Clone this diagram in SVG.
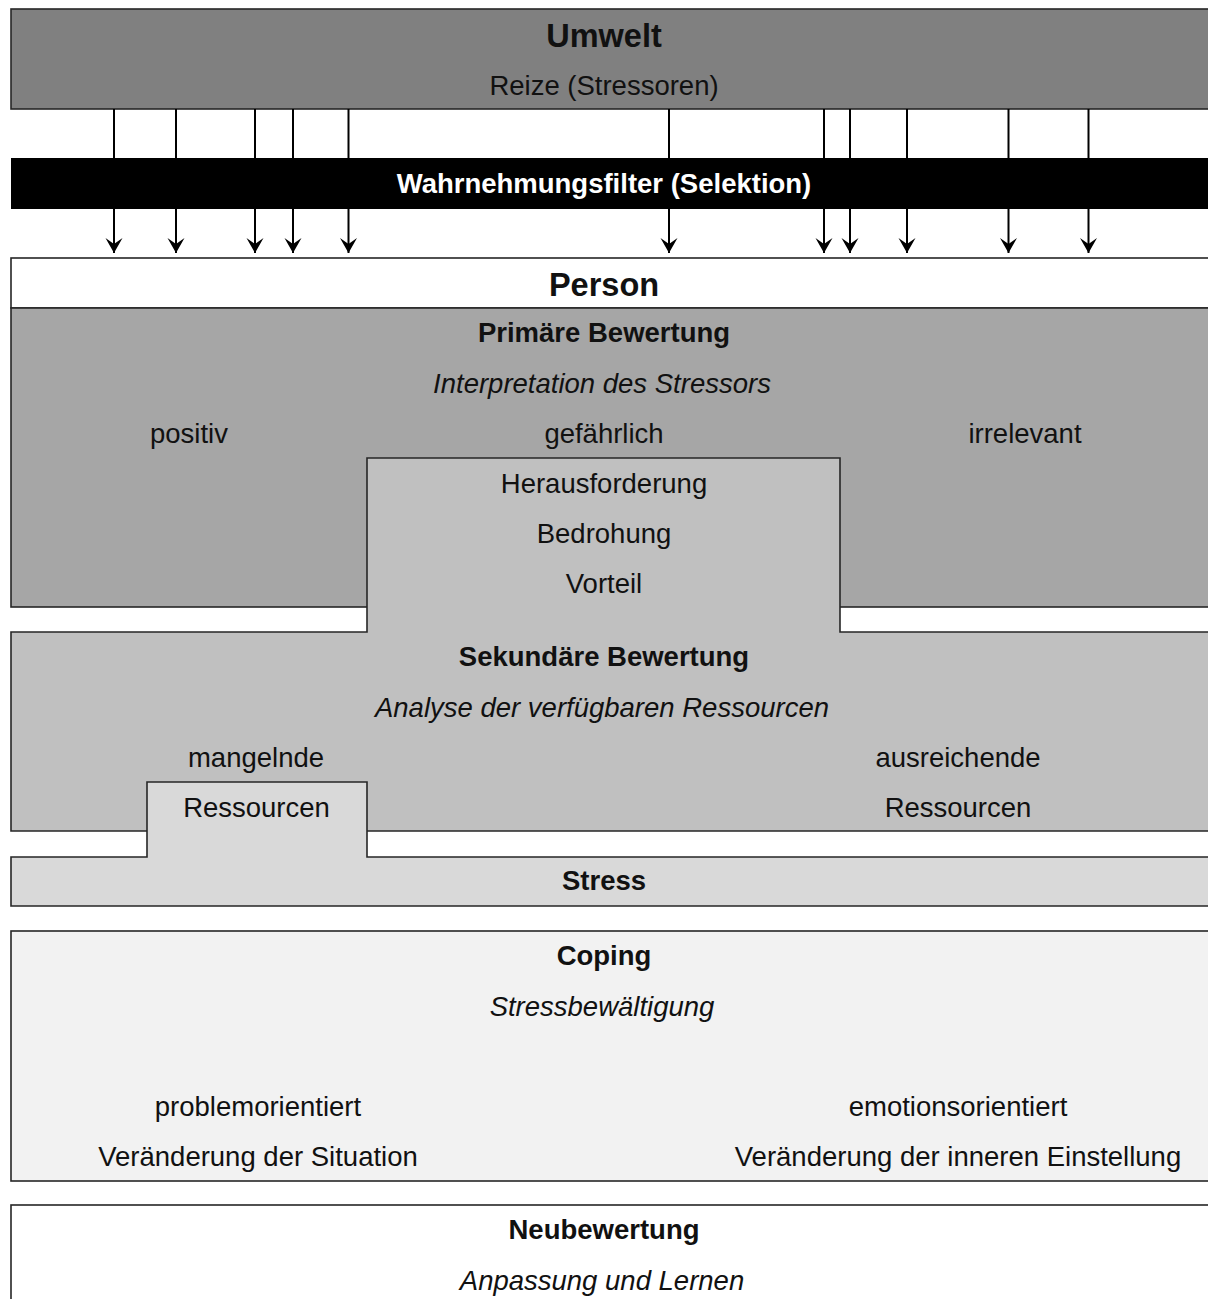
<svg xmlns="http://www.w3.org/2000/svg" width="1208" height="1299" viewBox="0 0 1208 1299">
<style>
.box{stroke:#262626;stroke-width:1.6}
text{font-family:"Liberation Sans",Arial,sans-serif;font-size:27.5px;fill:#111;text-anchor:middle}
.b{font-weight:bold}
.t{font-size:32.5px;font-weight:bold}
.i{font-style:italic}
.w{fill:#fff}
.conn line{stroke:#000;stroke-width:2;marker-end:url(#ah)}
</style>
<defs>
<marker id="ah" markerUnits="userSpaceOnUse" markerWidth="20" markerHeight="20" viewBox="-17 -10 19 20" refX="0" refY="0" orient="auto">
<path d="M0,0 L-15,-8.5 L-9,0 L-15,8.5 Z" fill="#000"/>
</marker>
</defs>
<rect width="1208" height="1299" fill="#fff"/>
<g id="umwelt">
<rect class="box" x="11" y="9" width="1210" height="100" fill="#808080"/>
<text class="t" x="604" y="47">Umwelt</text>
<text x="604" y="95">Reize (Stressoren)</text>
</g>
<g class="conn" id="connectors">
<line x1="114" y1="109" x2="114" y2="253"/>
<line x1="176" y1="109" x2="176" y2="253"/>
<line x1="255" y1="109" x2="255" y2="253"/>
<line x1="293" y1="109" x2="293" y2="253"/>
<line x1="348.5" y1="109" x2="348.5" y2="253"/>
<line x1="669" y1="109" x2="669" y2="253"/>
<line x1="824" y1="109" x2="824" y2="253"/>
<line x1="850" y1="109" x2="850" y2="253"/>
<line x1="907" y1="109" x2="907" y2="253"/>
<line x1="1008.5" y1="109" x2="1008.5" y2="253"/>
<line x1="1088.5" y1="109" x2="1088.5" y2="253"/>
</g>
<g id="filter">
<rect x="11" y="158" width="1210" height="51" fill="#000"/>
<text class="b w" x="604" y="193">Wahrnehmungsfilter (Selektion)</text>
</g>
<g id="person">
<rect class="box" x="11" y="258" width="1210" height="50" fill="#fff"/>
<text class="t" x="604" y="296">Person</text>
</g>
<g id="primaere">
<rect class="box" x="11" y="308" width="1210" height="299" fill="#a6a6a6"/>
<text class="b" x="604" y="342">Primäre Bewertung</text>
<text class="i" x="602" y="393">Interpretation des Stressors</text>
<text x="189" y="443">positiv</text>
<text x="604" y="443">gefährlich</text>
<text x="1025" y="443">irrelevant</text>
</g>
<g id="sekundaere">
<path class="box" d="M11,632 H367 V458 H840 V632 H1221 V831 H11 Z" fill="#c0c0c0"/>
<text x="604" y="493">Herausforderung</text>
<text x="604" y="543">Bedrohung</text>
<text x="604" y="593">Vorteil</text>
<text class="b" x="604" y="666">Sekundäre Bewertung</text>
<text class="i" x="602" y="717">Analyse der verfügbaren Ressourcen</text>
<text x="256" y="767">mangelnde</text>
<text x="958" y="767">ausreichende</text>
<text x="958" y="817">Ressourcen</text>
</g>
<g id="stress">
<path class="box" d="M11,857 H147 V782 H367 V857 H1221 V906 H11 Z" fill="#d9d9d9"/>
<text x="256.5" y="817">Ressourcen</text>
<text class="b" x="604" y="890">Stress</text>
</g>
<g id="coping">
<rect class="box" x="11" y="931" width="1210" height="250" fill="#f2f2f2"/>
<text class="b" x="604" y="965">Coping</text>
<text class="i" x="602" y="1016">Stressbewältigung</text>
<text x="258" y="1116">problemorientiert</text>
<text x="958" y="1116">emotionsorientiert</text>
<text x="258" y="1166">Veränderung der Situation</text>
<text x="958" y="1166">Veränderung der inneren Einstellung</text>
</g>
<g id="neubewertung">
<rect class="box" x="11" y="1205" width="1210" height="110" fill="#fff"/>
<text class="b" x="604" y="1239">Neubewertung</text>
<text class="i" x="602" y="1290">Anpassung und Lernen</text>
</g>
</svg>
